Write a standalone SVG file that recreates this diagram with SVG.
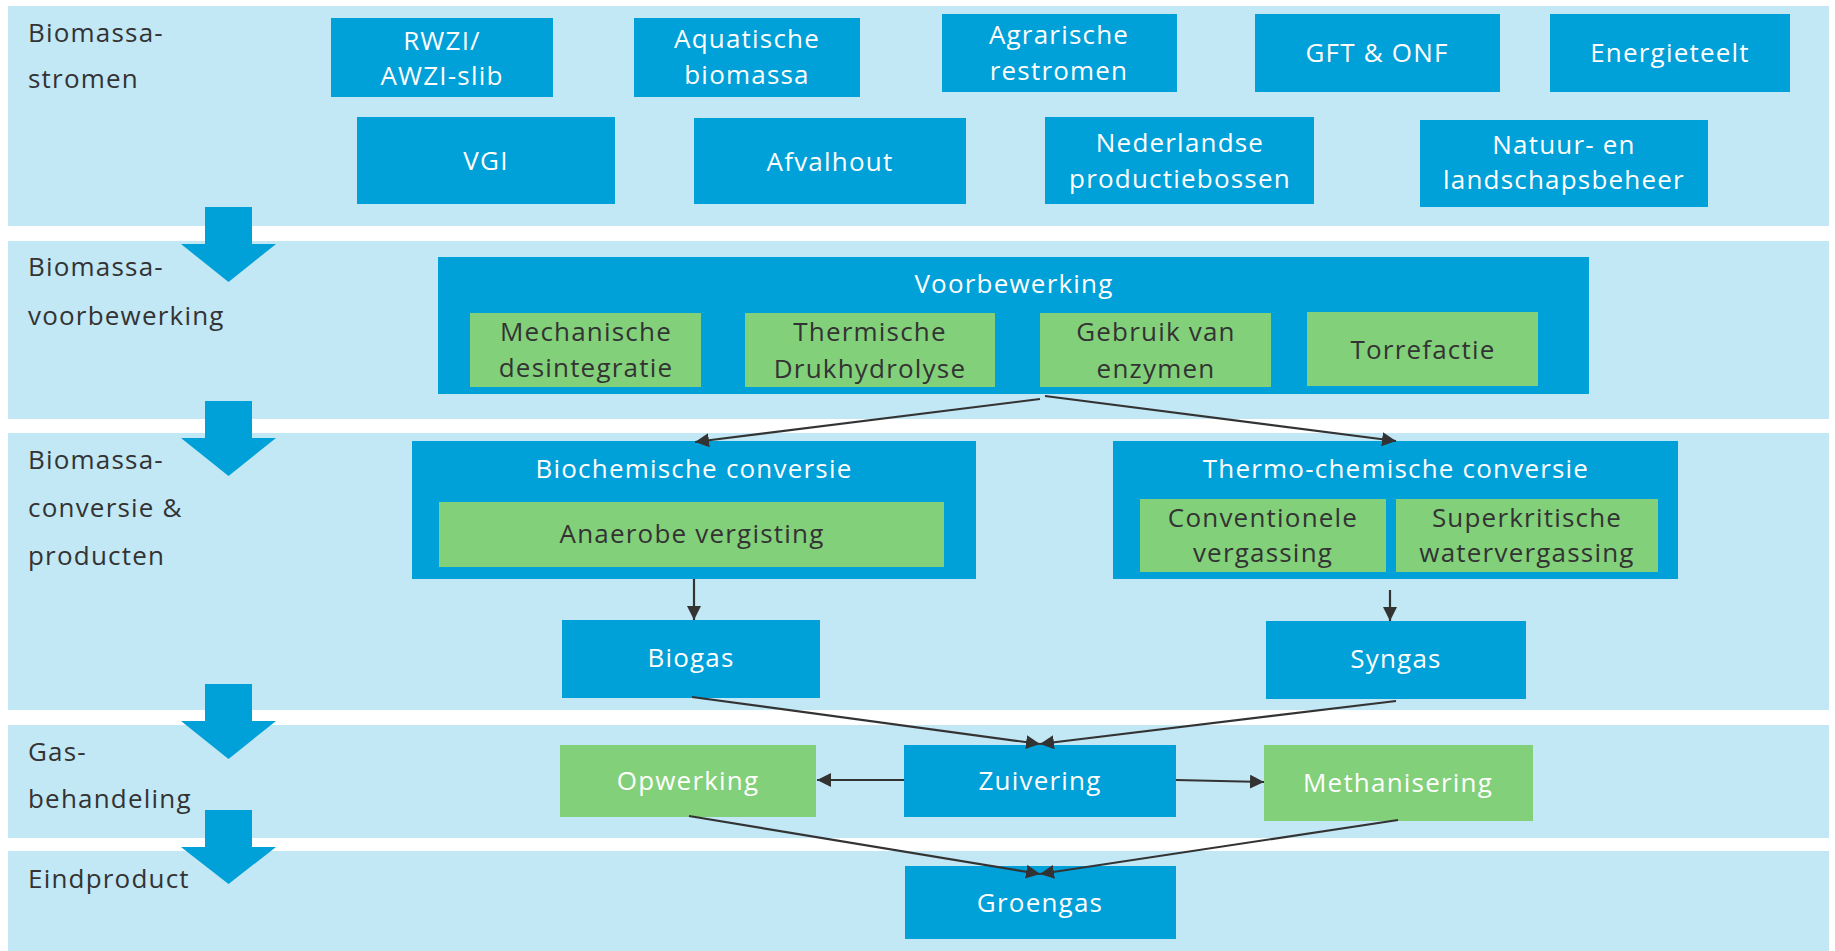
<svg xmlns="http://www.w3.org/2000/svg" width="1835" height="951" viewBox="0 0 1835 951">
<style>
.band{fill:#C2E7F5}
.blue{fill:#00A0D8}
.green{fill:#82D07A}
.bigarrow{fill:#00A0D8}
text{font-family:"Open Sans","Liberation Sans",sans-serif;font-size:26px;letter-spacing:1.2px}
.lbl{fill:#333333}
.w{fill:#FFFFFF;text-anchor:middle}
.d{fill:#333333;text-anchor:middle}
.conn{stroke:#333333;stroke-width:2.2;fill:none;marker-end:url(#ah)}
</style>
<defs>
<marker id="ah" markerUnits="userSpaceOnUse" markerWidth="16" markerHeight="16" refX="14" refY="7" orient="auto">
<path d="M0,0 L14,7 L0,14 z" fill="#333333"/>
</marker>
</defs>
<rect width="1835" height="951" fill="#FFFFFF"/>
<g id="bands">
<rect class="band" x="8" y="6" width="1821" height="220"/>
<rect class="band" x="8" y="241" width="1821" height="178"/>
<rect class="band" x="8" y="433" width="1821" height="277"/>
<rect class="band" x="8" y="725" width="1821" height="113"/>
<rect class="band" x="8" y="851" width="1821" height="100"/>
</g>
<g id="band-labels">
<text class="lbl" x="28" y="42">Biomassa-</text>
<text class="lbl" x="28" y="88">stromen</text>
<text class="lbl" x="28" y="276">Biomassa-</text>
<text class="lbl" x="28" y="325">voorbewerking</text>
<text class="lbl" x="28" y="469">Biomassa-</text>
<text class="lbl" x="28" y="517">conversie &amp;</text>
<text class="lbl" x="28" y="565">producten</text>
<text class="lbl" x="28" y="761">Gas-</text>
<text class="lbl" x="28" y="808">behandeling</text>
<text class="lbl" x="28" y="888">Eindproduct</text>
</g>
<g id="stage-arrows">
<path class="bigarrow" d="M205,207 H252 V244 H276 L228.5,282 L181,244 H205 Z"/>
<path class="bigarrow" d="M205,401 H252 V438 H276 L228.5,476 L181,438 H205 Z"/>
<path class="bigarrow" d="M205,684 H252 V721 H276 L228.5,759 L181,721 H205 Z"/>
<path class="bigarrow" d="M205,810 H252 V847 H276 L228.5,884 L181,847 H205 Z"/>
</g>
<g id="rwzi"><rect class="blue" x="331" y="18" width="222" height="79"/><text class="w" x="442" y="50">RWZI/</text><text class="w" x="442" y="85">AWZI-slib</text></g>
<g id="aquatische"><rect class="blue" x="634" y="18" width="226" height="79"/><text class="w" x="747" y="48">Aquatische</text><text class="w" x="747" y="84">biomassa</text></g>
<g id="agrarische"><rect class="blue" x="942" y="14" width="235" height="78"/><text class="w" x="1059" y="44">Agrarische</text><text class="w" x="1059" y="80">restromen</text></g>
<g id="gft"><rect class="blue" x="1255" y="14" width="245" height="78"/><text class="w" x="1377" y="62">GFT &amp; ONF</text></g>
<g id="energieteelt"><rect class="blue" x="1550" y="14" width="240" height="78"/><text class="w" x="1670" y="62">Energieteelt</text></g>
<g id="vgi"><rect class="blue" x="357" y="117" width="258" height="87"/><text class="w" x="486" y="170">VGI</text></g>
<g id="afvalhout"><rect class="blue" x="694" y="118" width="272" height="86"/><text class="w" x="830" y="171">Afvalhout</text></g>
<g id="nederlandse"><rect class="blue" x="1045" y="117" width="269" height="87"/><text class="w" x="1180" y="152">Nederlandse</text><text class="w" x="1180" y="188">productiebossen</text></g>
<g id="natuur"><rect class="blue" x="1420" y="120" width="288" height="87"/><text class="w" x="1564" y="154">Natuur- en</text><text class="w" x="1564" y="189">landschapsbeheer</text></g>
<g id="voorbewerking">
<rect class="blue" x="438" y="257" width="1151" height="137"/>
<text class="w" x="1014" y="293">Voorbewerking</text>
<g id="mechanische"><rect class="green" x="470" y="313" width="231" height="74"/><text class="d" x="586" y="341">Mechanische</text><text class="d" x="586" y="377">desintegratie</text></g>
<g id="thermische"><rect class="green" x="745" y="313" width="250" height="74"/><text class="d" x="870" y="341">Thermische</text><text class="d" x="870" y="378">Drukhydrolyse</text></g>
<g id="enzymen"><rect class="green" x="1040" y="313" width="231" height="74"/><text class="d" x="1156" y="341">Gebruik van</text><text class="d" x="1156" y="378">enzymen</text></g>
<g id="torrefactie"><rect class="green" x="1307" y="312" width="231" height="74"/><text class="d" x="1423" y="359">Torrefactie</text></g>
</g>
<g id="biochemisch">
<rect class="blue" x="412" y="441" width="564" height="138"/>
<text class="w" x="694" y="478">Biochemische conversie</text>
<g id="anaerobe"><rect class="green" x="439" y="502" width="505" height="65"/><text class="d" x="692" y="543">Anaerobe vergisting</text></g>
</g>
<g id="thermochemisch">
<rect class="blue" x="1113" y="441" width="565" height="138"/>
<text class="w" x="1396" y="478">Thermo-chemische conversie</text>
<g id="conventionele"><rect class="green" x="1140" y="499" width="246" height="73"/><text class="d" x="1263" y="527">Conventionele</text><text class="d" x="1263" y="562">vergassing</text></g>
<g id="superkritische"><rect class="green" x="1396" y="499" width="262" height="73"/><text class="d" x="1527" y="527">Superkritische</text><text class="d" x="1527" y="562">watervergassing</text></g>
</g>
<g id="biogas"><rect class="blue" x="562" y="620" width="258" height="78"/><text class="w" x="691" y="667">Biogas</text></g>
<g id="syngas"><rect class="blue" x="1266" y="621" width="260" height="78"/><text class="w" x="1396" y="668">Syngas</text></g>
<g id="opwerking"><rect class="green" x="560" y="745" width="256" height="72"/><text class="w" x="688" y="790">Opwerking</text></g>
<g id="zuivering"><rect class="blue" x="904" y="745" width="272" height="72"/><text class="w" x="1040" y="790">Zuivering</text></g>
<g id="methanisering"><rect class="green" x="1264" y="745" width="269" height="76"/><text class="w" x="1398" y="792">Methanisering</text></g>
<g id="groengas"><rect class="blue" x="905" y="866" width="271" height="73"/><text class="w" x="1040" y="912">Groengas</text></g>
<g id="connectors">
<line class="conn" x1="1040" y1="399" x2="695" y2="442"/>
<line class="conn" x1="1045" y1="396" x2="1396" y2="441"/>
<line class="conn" x1="694" y1="579" x2="694" y2="620"/>
<line class="conn" x1="1390" y1="590" x2="1390" y2="621"/>
<line class="conn" x1="692" y1="697" x2="1040" y2="744"/>
<line class="conn" x1="1396" y1="701" x2="1040" y2="744"/>
<line class="conn" x1="904" y1="780" x2="817" y2="780"/>
<line class="conn" x1="1176" y1="780" x2="1264" y2="782"/>
<line class="conn" x1="689" y1="816" x2="1040" y2="874"/>
<line class="conn" x1="1398" y1="820" x2="1040" y2="874"/>
</g>
</svg>
